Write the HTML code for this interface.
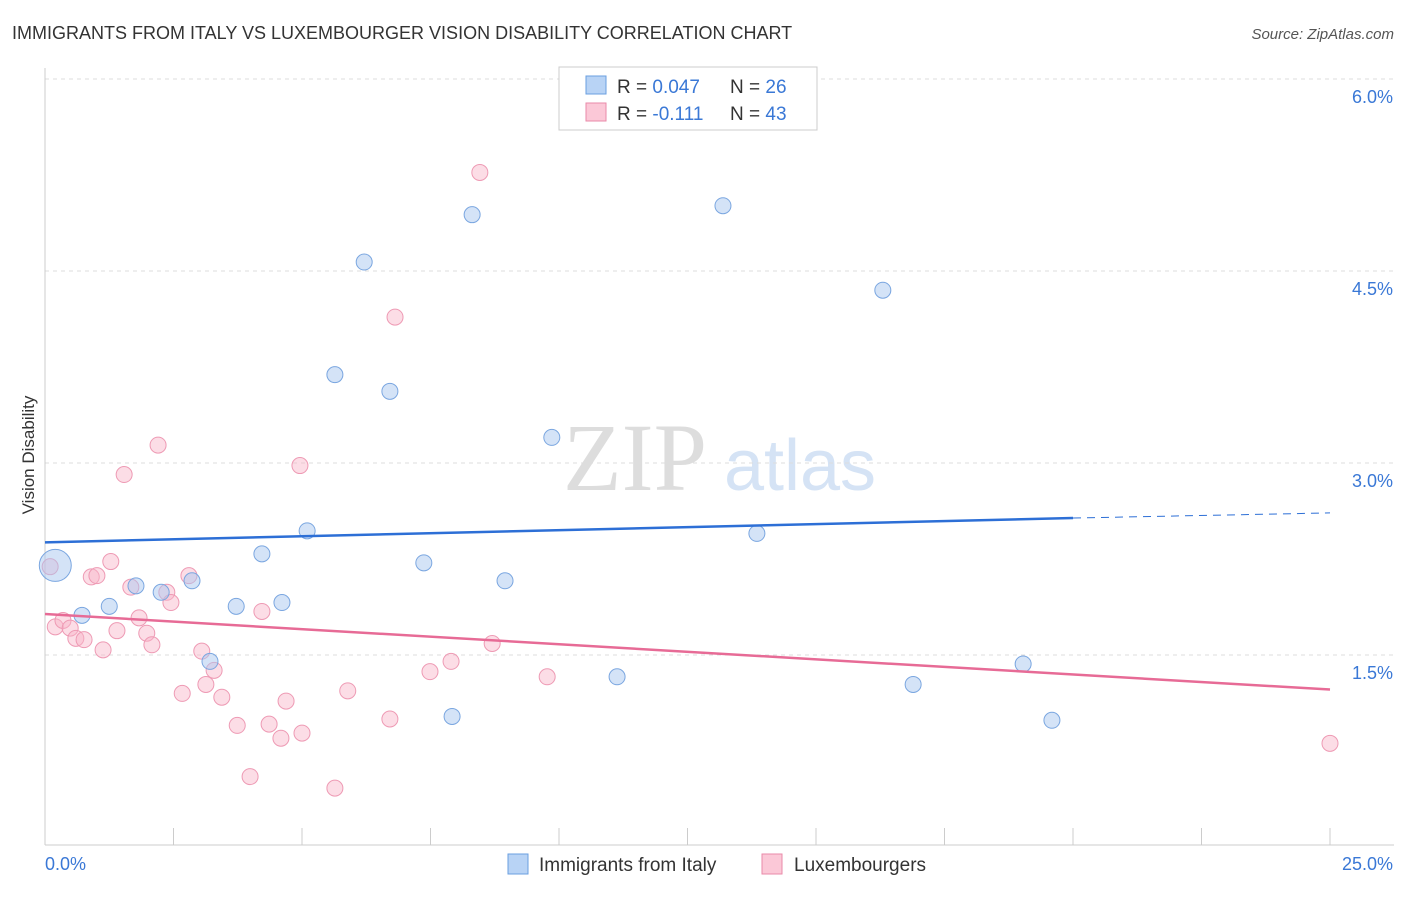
<!DOCTYPE html>
<html><head><meta charset="utf-8"><style>
body{margin:0;background:#fff;font-family:"Liberation Sans",sans-serif;}
svg text{font-family:"Liberation Sans",sans-serif;}
svg text.serif{font-family:"Liberation Serif",serif;}
</style></head><body>
<svg width="1406" height="892" xmlns="http://www.w3.org/2000/svg">
<text x="12" y="39" font-size="18" fill="#333">IMMIGRANTS FROM ITALY VS LUXEMBOURGER VISION DISABILITY CORRELATION CHART</text>
<text x="1394" y="39" font-size="15" fill="#555" text-anchor="end" font-style="italic">Source: ZipAtlas.com</text>
<text x="34" y="455" font-size="17" fill="#333" transform="rotate(-90 34 455)" text-anchor="middle">Vision Disability</text>
<g><text class="serif" x="635" y="490" font-size="96" fill="#ddd" text-anchor="middle">ZIP</text><text x="800" y="490" font-size="72" fill="#d5e3f5" text-anchor="middle">atlas</text></g>
<g id="grid"></g><g id="axes"></g><g id="marks"></g>
<g>
<rect x="559" y="67" width="258" height="63" fill="#fff" stroke="#ccc"/>
<rect x="586" y="76" width="20" height="18" fill="#b8d3f5" stroke="#6a9fe0"/>
<rect x="586" y="103" width="20" height="18" fill="#fbc8d7" stroke="#ea8aa8"/>
<text x="617" y="93" font-size="19" fill="#333">R = <tspan fill="#3a78d6">0.047</tspan></text>
<text x="730" y="93" font-size="19" fill="#333">N = <tspan fill="#3a78d6">26</tspan></text>
<text x="617" y="120" font-size="19" fill="#333">R = <tspan fill="#3a78d6"> -0.111</tspan></text>
<text x="730" y="120" font-size="19" fill="#333">N = <tspan fill="#3a78d6">43</tspan></text>
</g>
<g>
<rect x="508" y="854" width="20" height="20" fill="#b8d3f5" stroke="#6a9fe0"/>
<text x="539" y="871" font-size="19" fill="#333">Immigrants from Italy</text>
<rect x="762" y="854" width="20" height="20" fill="#fbc8d7" stroke="#ea8aa8"/>
<text x="794" y="871" font-size="19" fill="#333">Luxembourgers</text>
</g>
</svg>
<script>
const italyX=[0.2,0.72,1.25,1.77,2.26,2.86,3.21,3.72,4.22,4.61,5.1,5.64,6.21,6.71,7.37,7.92,8.31,8.95,9.86,11.13,13.19,13.85,16.3,16.89,19.03,19.59];
const italyY=[2.2,1.81,1.88,2.04,1.99,2.08,1.45,1.88,2.29,1.91,2.47,3.69,4.57,3.56,2.22,1.02,4.94,2.08,3.2,1.33,5.01,2.45,4.35,1.27,1.43,0.99];
const luxX=[0.1,0.2,0.35,0.49,0.6,0.76,0.9,1.01,1.13,1.28,1.4,1.54,1.67,1.83,1.98,2.08,2.2,2.37,2.45,2.67,2.8,3.05,3.13,3.29,3.44,3.74,3.99,4.22,4.36,4.59,4.69,4.96,5.0,5.64,5.89,6.71,6.81,7.49,7.9,8.46,8.7,9.77,25];
const luxY=[2.19,1.72,1.77,1.71,1.63,1.62,2.11,2.12,1.54,2.23,1.69,2.91,2.03,1.79,1.67,1.58,3.14,1.99,1.91,1.2,2.12,1.53,1.27,1.38,1.17,0.95,0.55,1.84,0.96,0.85,1.14,2.98,0.89,0.46,1.22,1.0,4.14,1.37,1.45,5.27,1.59,1.33,0.81];
const yTicks=[1.5,3.0,4.5,6.0];
const yTickLabels=["1.5%","3.0%","4.5%","6.0%"];
const xTicks=[2.5,5,7.5,10,12.5,15,17.5,20,22.5,25];
const italyTrend=[[0,2.38],[20,2.57],[25,2.61]];
const luxTrend=[[0,1.82],[25,1.23]];
const X=v=>45+v*51.4, Y=v=>655-(v-1.5)*128;
const NS="http://www.w3.org/2000/svg";
function mk(p,t,a){const e=document.createElementNS(NS,t);for(const k in a)e.setAttribute(k,a[k]);document.getElementById(p).appendChild(e);return e;}
yTicks.forEach((t,i)=>{
 const l=mk('grid','line',{x1:45,x2:1394,y1:Y(t),y2:Y(t),stroke:'#ddd','stroke-dasharray':'4,4'});
 
 
 const tx=mk('grid','text',{x:1393,y:Y(t)+24,'font-size':18,fill:'#3a78d6','text-anchor':'end'});tx.textContent=yTickLabels[i];
 
 
});
mk('axes','line',{x1:45,x2:45,y1:68,y2:845,stroke:'#ccc'});
mk('axes','line',{x1:45,x2:1394,y1:845,y2:845,stroke:'#ccc'});
xTicks.forEach(t=>{const l=mk('axes','line',{x1:X(t),x2:X(t),y1:828,y2:845,stroke:'#ccc'});
 
 });
let a=mk('axes','text',{x:45,y:870,'font-size':18,fill:'#3a78d6'});a.textContent='0.0%';


a=mk('axes','text',{x:1393,y:870,'font-size':18,fill:'#3a78d6','text-anchor':'end'});a.textContent='25.0%';


luxX.forEach((x,i)=>{const c=mk('marks','circle',{cx:X(x),cy:Y(luxY[i]),r:8,fill:'rgba(248,180,200,0.45)',stroke:'#ee9ab4','stroke-width':1});
 
 });
italyX.forEach((x,i)=>{const c=mk('marks','circle',{cx:X(x),cy:Y(italyY[i]),r:i==0?16:8,fill:'rgba(170,200,240,0.5)',stroke:'#7aa6e0','stroke-width':1});
 
 });
let t=mk('marks','line',{x1:X(italyTrend[0][0]),y1:Y(italyTrend[0][1]),x2:X(italyTrend[1][0]),y2:Y(italyTrend[1][1]),stroke:'#2d6fd6','stroke-width':2.5});


t=mk('marks','line',{x1:X(italyTrend[1][0]),y1:Y(italyTrend[1][1]),x2:X(italyTrend[2][0]),y2:Y(italyTrend[2][1]),stroke:'#2d6fd6','stroke-width':1,'stroke-dasharray':'8,6'});


t=mk('marks','line',{x1:X(luxTrend[0][0]),y1:Y(luxTrend[0][1]),x2:X(luxTrend[1][0]),y2:Y(luxTrend[1][1]),stroke:'#e76b96','stroke-width':2.5});


</script>
</body></html>
